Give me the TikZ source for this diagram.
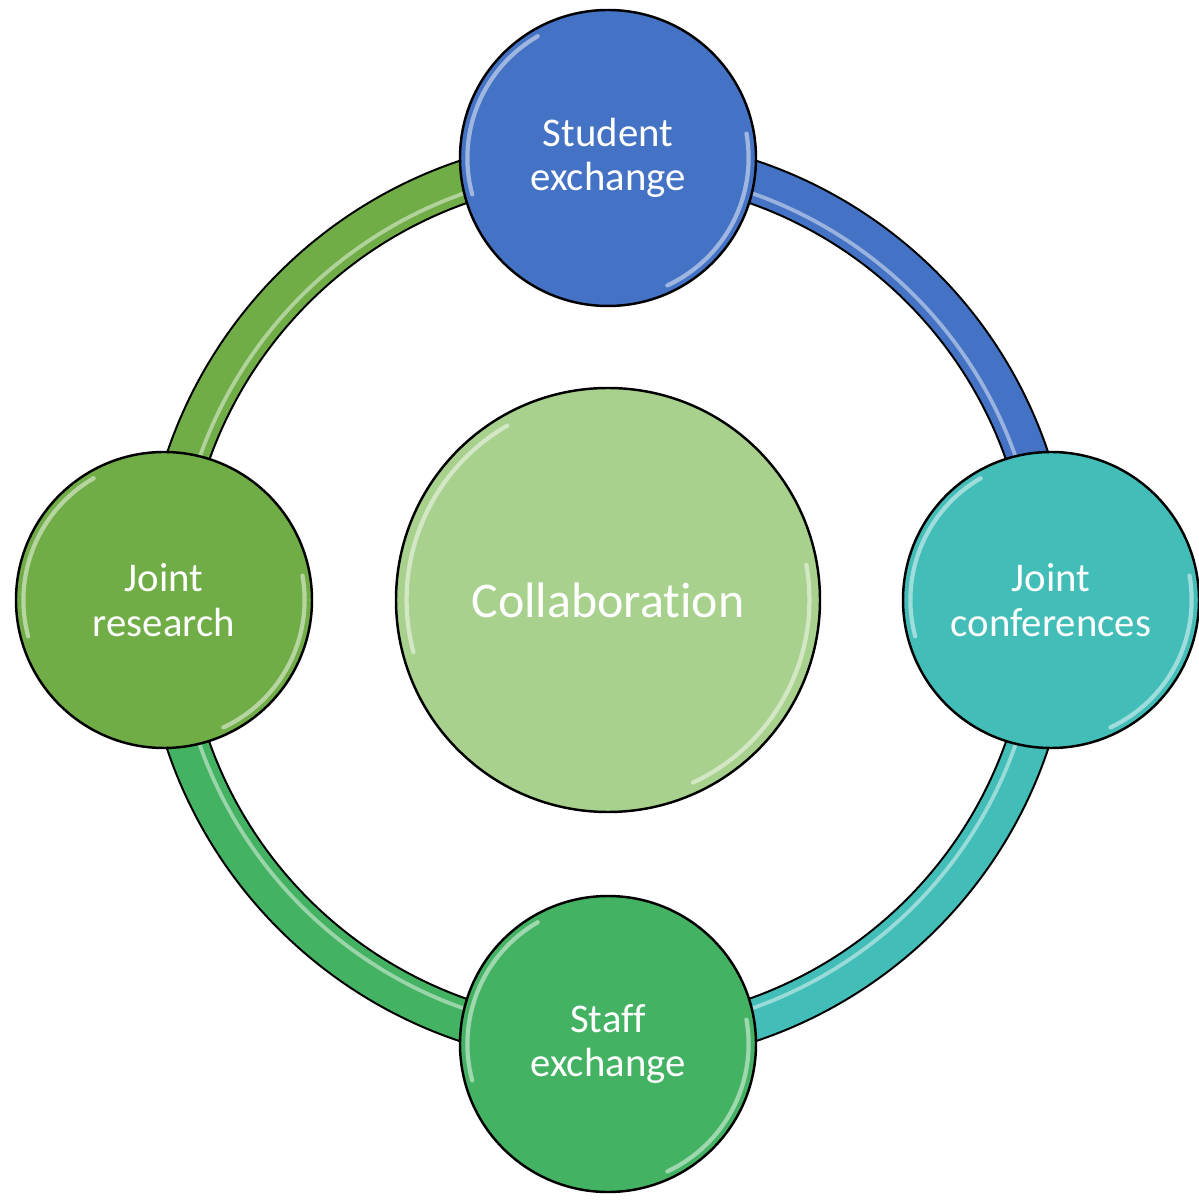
\documentclass[tikz,border=0pt]{standalone}
\usepackage{fontspec}
\setmainfont[Ligatures=NoCommon]{Carlito}
\usetikzlibrary{calc,backgrounds}
\definecolor{myblue}{HTML}{4472C4}
\definecolor{myteal}{HTML}{42BDB8}
\definecolor{mygreen}{HTML}{44B263}
\definecolor{myolive}{HTML}{70AD47}
\definecolor{mylight}{HTML}{A9D18E}
\tikzset{
  ringNode/.style 2 args={circle,draw=black,line width=0.7pt,fill=#1,text=white,align=center,
    inner sep=0pt,minimum size=2*#2 cm,
    path picture={
      \draw[#1!30!white,line width=1.2pt,line cap=round,opacity=0.7]
        ($(path picture bounding box.center)+(120:{0.95*#2})$) arc[start angle=120,end angle=195,radius={0.95*#2}];
      \draw[#1!30!white,line width=1.2pt,line cap=round,opacity=0.7]
        ($(path picture bounding box.center)+(-65:{0.95*#2})$) arc[start angle=-65,end angle=10,radius={0.95*#2}];
    }},
  outerNode/.style={ringNode={#1}{1.48},font=\fontsize{11.6}{12.6}\selectfont},
  ringArc/.style={draw=black,line width=0.6pt,double=#1,double distance=0.4cm},
  ringGloss/.style={draw=#1!35!white,line width=1.1pt,opacity=0.7,transform canvas={scale=0.975}},
}

\begin{document}
\begin{tikzpicture}
  \useasboundingbox (-6.08,-6.02) rectangle (5.90,6.00);

  \node[ringNode={mylight}{2.12},font=\fontsize{14.2}{14}\selectfont] at (0,0) (collab) {Collaboration};
  \node[outerNode=myblue] at (0,4.42) (student) {Student\\exchange};
  \node[outerNode=myteal] at (4.43,0) (conf) {Joint\\conferences};
  \node[outerNode=mygreen] at (0,-4.44) (staff) {Staff\\exchange};
  \node[outerNode=myolive] at (-4.44,0) (research) {Joint\\research};

  % ring between the outer circles
  \begin{scope}[on background layer]
    \foreach \from/\to/\col in {student/conf/myblue,conf/staff/myteal,staff/research/mygreen,research/student/myolive} {
      \draw[ringArc=\col] (\from.center) to[bend left=45] (\to.center);
      \draw[ringGloss=\col] (\from.center) to[bend left=45] (\to.center);
    }
  \end{scope}
\end{tikzpicture}
\end{document}
